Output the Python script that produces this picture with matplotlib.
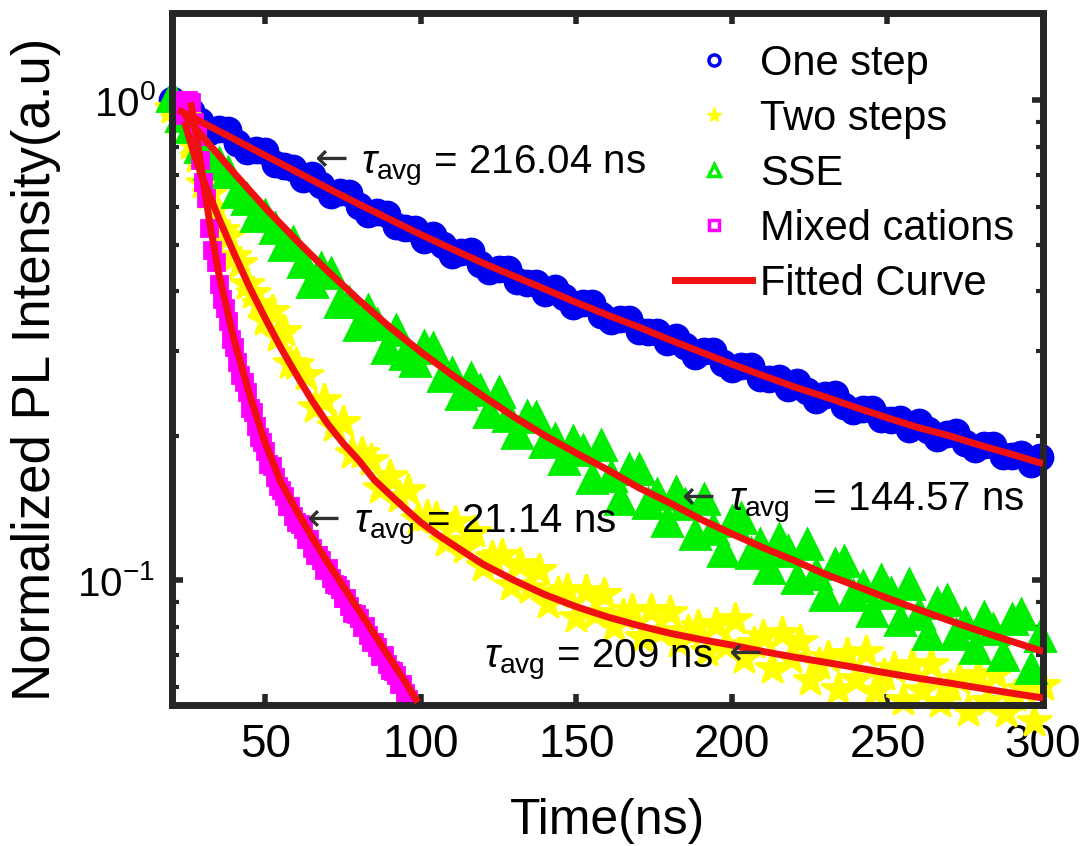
import numpy as np
import matplotlib
matplotlib.use('Agg')
import matplotlib.pyplot as plt
from matplotlib.lines import Line2D
from matplotlib.ticker import FixedLocator, FixedFormatter, NullFormatter, LogLocator

plt.rcParams['font.family'] = ['Liberation Sans', 'DejaVu Sans']
plt.rcParams['mathtext.fontset'] = 'custom'
plt.rcParams['mathtext.rm'] = 'Liberation Sans'
plt.rcParams['mathtext.it'] = 'Liberation Sans:italic'
plt.rcParams['mathtext.bf'] = 'Liberation Sans:bold'

# ---- measured decay data (normalized PL) ----
t_one = np.arange(20, 300, 3)
one_step = [1.000, 0.931, 0.951, 0.904, 0.859, 0.871, 0.869, 0.815, 0.785, 0.789,
            0.783, 0.738, 0.729, 0.724, 0.686, 0.700, 0.667, 0.634, 0.643, 0.641,
            0.601, 0.581, 0.585, 0.581, 0.548, 0.542, 0.540, 0.512, 0.524, 0.500,
            0.476, 0.484, 0.485, 0.456, 0.442, 0.446, 0.445, 0.420, 0.417, 0.417,
            0.396, 0.406, 0.389, 0.372, 0.378, 0.379, 0.357, 0.347, 0.351, 0.350,
            0.331, 0.329, 0.329, 0.313, 0.321, 0.308, 0.294, 0.300, 0.301, 0.284,
            0.276, 0.279, 0.279, 0.264, 0.263, 0.264, 0.252, 0.259, 0.248, 0.238,
            0.243, 0.244, 0.231, 0.225, 0.228, 0.228, 0.217, 0.216, 0.217, 0.207,
            0.214, 0.206, 0.198, 0.202, 0.204, 0.193, 0.188, 0.191, 0.191, 0.182,
            0.182, 0.183, 0.175, 0.181]

t_two = np.r_[np.arange(20, 60, 2), np.arange(60, 301, 3)]
two_steps = [0.966, 0.914, 0.918, 0.811, 0.762, 0.673, 0.637, 0.597, 0.538, 0.522,
             0.475, 0.459, 0.414, 0.396, 0.377, 0.349, 0.364, 0.323, 0.330, 0.284,
             0.282, 0.268, 0.230, 0.238, 0.210, 0.214, 0.184, 0.184, 0.178, 0.156,
             0.165, 0.149, 0.154, 0.134, 0.136, 0.135, 0.121, 0.132, 0.117, 0.126,
             0.107, 0.112, 0.113, 0.098, 0.108, 0.0965, 0.105, 0.0897, 0.0941, 0.0954,
             0.0839, 0.0948, 0.0854, 0.0935, 0.0804, 0.0848, 0.0866, 0.0763, 0.0867, 0.0784,
             0.0861, 0.0744, 0.0786, 0.0804, 0.0714, 0.0811, 0.0735, 0.0830, 0.0690, 0.0742,
             0.0766, 0.0657, 0.0778, 0.0688, 0.0746, 0.0620, 0.0669, 0.0693, 0.0595, 0.0703,
             0.0623, 0.0708, 0.0588, 0.0634, 0.0657, 0.0564, 0.0667, 0.0591, 0.0671, 0.0559,
             0.0603, 0.0624, 0.0535, 0.0634, 0.0562, 0.0638, 0.0531, 0.0573, 0.0594, 0.0510,
             0.0604]

t_sse = np.arange(20, 300, 3)
sse = [1.023, 0.929, 0.879, 0.800, 0.738, 0.740, 0.710, 0.643, 0.624, 0.574,
       0.577, 0.543, 0.499, 0.507, 0.461, 0.418, 0.447, 0.437, 0.380, 0.380,
       0.340, 0.366, 0.342, 0.305, 0.333, 0.296, 0.286, 0.308, 0.305, 0.267,
       0.270, 0.244, 0.264, 0.249, 0.224, 0.247, 0.220, 0.203, 0.220, 0.219,
       0.194, 0.197, 0.179, 0.195, 0.187, 0.163, 0.191, 0.165, 0.148, 0.171,
       0.171, 0.145, 0.151, 0.133, 0.153, 0.144, 0.125, 0.148, 0.128, 0.115,
       0.133, 0.135, 0.114, 0.119, 0.106, 0.122, 0.115, 0.101, 0.119, 0.103,
       0.0933, 0.108, 0.1095, 0.0930, 0.0974, 0.0862, 0.1001, 0.0943, 0.0828, 0.0982,
       0.0853, 0.0773, 0.0897, 0.0911, 0.0775, 0.0814, 0.0722, 0.0840, 0.0793, 0.0698,
       0.0830, 0.0850, 0.0656, 0.0764]

t_mix = np.arange(22, 97)
mixed = [0.933, 0.977, 1.000, 1.000, 0.990, 0.902, 0.843, 0.752, 0.675, 0.625,
         0.542, 0.488, 0.460, 0.415, 0.385, 0.369, 0.347, 0.318, 0.306, 0.285,
         0.268, 0.259, 0.247, 0.229, 0.224, 0.210, 0.199, 0.194, 0.186, 0.175,
         0.173, 0.164, 0.157, 0.154, 0.150, 0.143, 0.143, 0.136, 0.132, 0.131,
         0.128, 0.122, 0.122, 0.117, 0.113, 0.113, 0.110, 0.105, 0.106, 0.101,
         0.0982, 0.0979, 0.0959, 0.0918, 0.0920, 0.0883, 0.0855, 0.0853, 0.0836, 0.0800,
         0.0802, 0.0769, 0.0745, 0.0743, 0.0728, 0.0697, 0.0698, 0.0670, 0.0649, 0.0647,
         0.0634, 0.0607, 0.0608, 0.0583, 0.0565]

# ---- fitted curves ----
fit_one_t = [22, 30, 40, 50, 60, 70, 80, 90, 100, 110, 120, 130, 140, 150, 160,
             170, 180, 190, 200, 210, 220, 230, 240, 250, 260, 270, 280, 290, 300]
fit_one = [0.955, 0.897, 0.830, 0.767, 0.710, 0.656, 0.608, 0.565, 0.525, 0.490,
           0.458, 0.430, 0.404, 0.379, 0.357, 0.337, 0.317, 0.299, 0.282, 0.267,
           0.253, 0.241, 0.229, 0.218, 0.208, 0.200, 0.191, 0.183, 0.175]

fit_two_t = [24, 27, 30, 35, 40, 45, 50, 55, 60, 65, 70, 75, 80, 85, 90, 95, 100, 105, 110,
             120, 130, 140, 150, 160, 170, 180, 190, 200, 210, 220, 230, 240, 250, 260,
             270, 280, 290, 300]
fit_two = [0.902, 0.776, 0.684, 0.569, 0.479, 0.407, 0.351, 0.305, 0.268, 0.237,
           0.212, 0.193, 0.178, 0.162, 0.151, 0.141, 0.132, 0.125, 0.119,
           0.108, 0.100, 0.0933, 0.0881, 0.0839, 0.0805, 0.0776, 0.0753, 0.0733, 0.0711,
           0.0692, 0.0675, 0.0658, 0.0641, 0.0625, 0.0611, 0.0596, 0.0582, 0.0569]

fit_sse_t = [24, 30, 40, 50, 60, 70, 80, 90, 100, 110, 120, 130, 140, 150, 160,
             170, 180, 190, 200, 210, 220, 230, 240, 250, 260, 270, 280, 290, 300]
fit_sse = [0.933, 0.838, 0.705, 0.597, 0.511, 0.441, 0.384, 0.337, 0.299, 0.268,
           0.242, 0.219, 0.200, 0.184, 0.170, 0.156, 0.145, 0.134, 0.125, 0.117,
           0.110, 0.103, 0.0973, 0.0918, 0.0869, 0.0824, 0.0783, 0.0746, 0.0711]

fit_mix_t = [26, 28, 30, 32, 35, 40, 45, 50, 55, 60, 65, 70, 75, 80, 85, 90, 95, 99]
fit_mix = [0.990, 0.832, 0.684, 0.562, 0.437, 0.316, 0.243, 0.193, 0.160, 0.140,
           0.123, 0.109, 0.0973, 0.0867, 0.0773, 0.0689, 0.0614, 0.0557]

labels = ['One step', 'Two steps', 'SSE', 'Mixed cations', 'Fitted Curve']
c_blue, c_yel, c_grn, c_mag, c_red = '#0000f0', '#ffff00', '#00ee00', '#ff00ff', '#f01010'

fig = plt.figure(figsize=(10.86, 8.46), dpi=100)
ax = fig.add_axes([172 / 1086, 1 - 705 / 846, 871 / 1086, 692 / 846])

# data markers - dense and overlapping, not clipped at the box (like MATLAB)
ax.plot(t_one, one_step, ls='none', marker='o', ms=18, mfc=c_blue, mec=c_blue, mew=2, clip_on=False, zorder=2)
ax.plot(t_two, two_steps, ls='none', marker='*', ms=25, mfc=c_yel, mec=c_yel, mew=2, clip_on=False, zorder=2)
ax.plot(t_sse, sse, ls='none', marker='^', ms=22, mfc=c_grn, mec=c_grn, mew=2, clip_on=False, zorder=2)
ax.plot(t_mix, mixed, ls='none', marker='s', ms=11, mfc=c_mag, mec=c_mag, mew=2, clip_on=False, zorder=2)

# fitted curves
for ft, fv in [(fit_one_t, fit_one), (fit_two_t, fit_two), (fit_sse_t, fit_sse), (fit_mix_t, fit_mix)]:
    ax.plot(ft, fv, color=c_red, lw=5, solid_capstyle='butt', zorder=3)

ax.set_yscale('log')
ax.set_xlim(20, 300)
ax.set_ylim(0.055, 1.52)

ax.xaxis.set_major_locator(FixedLocator([50, 100, 150, 200, 250, 300]))
ax.yaxis.set_major_locator(FixedLocator([0.1, 1]))
ax.yaxis.set_major_formatter(FixedFormatter([r'$10^{-1}$', r'$10^{0}$']))
ax.yaxis.set_minor_locator(LogLocator(base=10, subs=np.arange(2, 10)))
ax.yaxis.set_minor_formatter(NullFormatter())

for s in ax.spines.values():
    s.set_linewidth(5)
    s.set_color('#262626')
ax.tick_params(which='both', direction='in', top=True, right=True, color='#262626')
ax.tick_params(which='major', length=8, width=4)
ax.tick_params(which='minor', length=5, width=3)
ax.tick_params(axis='y', labelsize=29, pad=12)
ax.tick_params(axis='x', labelsize=33, pad=13)

ax.set_xlabel('Time(ns)', fontsize=36)
ax.xaxis.set_label_coords(0.5, -0.135)
ax.set_ylabel('Normalized PL Intensity(a.u)', fontsize=38)
ax.yaxis.set_label_coords(-0.128, 0.485)

# lifetime annotations: thin arrow glyph + tau label
fs = 29
arrow_kw = dict(fontsize=fs, family='DejaVu Sans', va='baseline', ha='left', color='#303030')
ax.text(66.1, 0.712, '\u2190', **arrow_kw)
ax.text(80.6, 0.705, r'$\tau_{\rm avg}$ = 216.04 ns', fontsize=fs, va='baseline')
ax.text(63.5, 0.127, '\u2190', **arrow_kw)
ax.text(78.4, 0.126, r'$\tau_{\rm avg}$ = 21.14 ns', fontsize=fs, va='baseline')
ax.text(183.9, 0.141, '\u2190', **arrow_kw)
ax.text(199.0, 0.140, r'$\tau_{\rm avg}$  = 144.57 ns', fontsize=fs, va='baseline')
ax.text(120.3, 0.0659, r'$\tau_{\rm avg}$ = 209 ns', fontsize=fs, va='baseline')
ax.text(199.0, 0.0665, '\u2190', **arrow_kw)

handles = [
    Line2D([], [], ls='none', marker='o', ms=8, mfc='none', mec=c_blue, mew=2.5),
    Line2D([], [], ls='none', marker='*', ms=11, mfc=c_yel, mec=c_yel, mew=1),
    Line2D([], [], ls='none', marker='^', ms=9, mfc='none', mec=c_grn, mew=2.5),
    Line2D([], [], ls='none', marker='s', ms=7, mfc='none', mec=c_mag, mew=2.5),
    Line2D([], [], color=c_red, lw=5),
]
ax.legend(handles, labels, loc='upper left', bbox_to_anchor=(675 / 1086, 1 - 44 / 846),
          bbox_transform=fig.transFigure, frameon=False, fontsize=30, handlelength=1.85,
          handletextpad=0.2, labelspacing=0.36, borderpad=0, borderaxespad=0)

fig.savefig('out.png', dpi=100)
